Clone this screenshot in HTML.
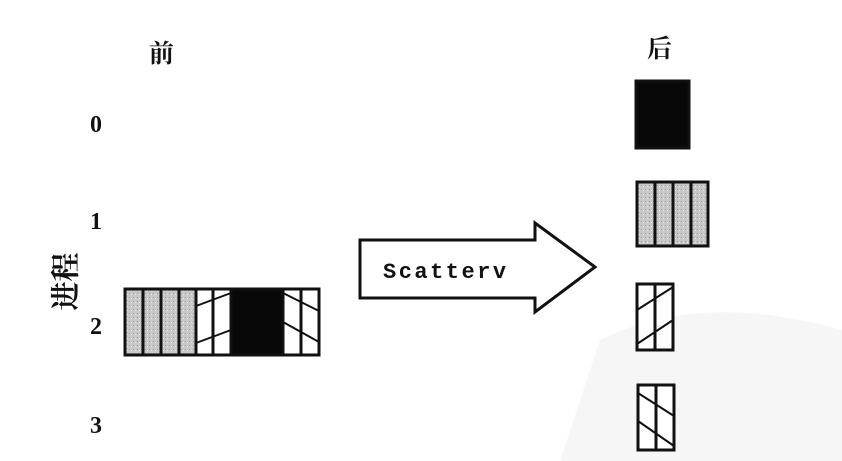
<!DOCTYPE html>
<html><head><meta charset="utf-8">
<style>
html,body{margin:0;padding:0;background:#fff;}
#wrap{position:relative;width:842px;height:461px;overflow:hidden;background:#fff;}
.t{position:absolute;font-family:"Liberation Serif","Noto Serif CJK SC",serif;font-weight:bold;color:#111;line-height:1;}
</style></head><body>
<div id="wrap">
<svg width="842" height="461" style="position:absolute;left:0;top:0">
<defs>
<pattern id="gray" width="4" height="4" patternUnits="userSpaceOnUse"><rect width="4" height="4" fill="#c8c8c8"/><rect x="1" y="1" width="1" height="1" fill="#999"/><rect x="3" y="2" width="1" height="1" fill="#e8e8e8"/></pattern>
</defs>
<path d="M560 461 L600 340 Q700 290 842 330 L842 461 Z" fill="#f6f6f6"/>
<g stroke="#111" stroke-width="3">
<rect x="125" y="289" width="18" height="66" fill="url(#gray)"/>
<rect x="143" y="289" width="18" height="66" fill="url(#gray)"/>
<rect x="161" y="289" width="18" height="66" fill="url(#gray)"/>
<rect x="179" y="289" width="17" height="66" fill="url(#gray)"/>
<rect x="196" y="289" width="17" height="66" fill="#fff"/>
<rect x="213" y="289" width="18" height="66" fill="#fff"/>
<line x1="196" y1="306" x2="231" y2="293" stroke-width="2"/>
<line x1="196" y1="343" x2="231" y2="330" stroke-width="2"/>
<rect x="231" y="289" width="52" height="66" fill="#080808"/>
<rect x="283" y="289" width="18" height="66" fill="#fff"/>
<rect x="301" y="289" width="18" height="66" fill="#fff"/>
<line x1="283" y1="293" x2="319" y2="311" stroke-width="2"/>
<line x1="283" y1="322" x2="319" y2="342" stroke-width="2"/>
</g>
<g stroke="#111" stroke-width="3">
<rect x="636" y="81" width="53" height="67" fill="#080808"/>
<g>
<rect x="637" y="182" width="18" height="64" fill="url(#gray)"/>
<rect x="655" y="182" width="18" height="64" fill="url(#gray)"/>
<rect x="673" y="182" width="18" height="64" fill="url(#gray)"/>
<rect x="691" y="182" width="17" height="64" fill="url(#gray)"/>
</g>
<g>
<rect x="637" y="284" width="18" height="66" fill="#fff"/>
<rect x="655" y="284" width="18" height="66" fill="#fff"/>
<line x1="637" y1="310" x2="673" y2="287" stroke-width="2"/>
<line x1="637" y1="344" x2="673" y2="320" stroke-width="2"/>
</g>
<g>
<rect x="638" y="385" width="18" height="65" fill="#fff"/>
<rect x="656" y="385" width="18" height="65" fill="#fff"/>
<line x1="638" y1="393" x2="674" y2="416" stroke-width="2"/>
<line x1="638" y1="421" x2="674" y2="446" stroke-width="2"/>
</g>
</g>
<polygon points="360,240 535,240 535,223 595,267 535,312 535,298 360,298" fill="#fff" stroke="#111" stroke-width="3"/>
<text x="383" y="278" font-family="Liberation Mono, monospace" font-weight="bold" font-size="22" letter-spacing="2.5" fill="#111">Scatterv</text>
</svg>
<div class="t" style="left:149px;top:42px;font-size:25px;">前</div>
<div class="t" style="left:647px;top:37px;font-size:25px;">后</div>
<div class="t" style="left:90px;top:113px;font-size:24px;">0</div>
<div class="t" style="left:90px;top:210px;font-size:24px;">1</div>
<div class="t" style="left:90px;top:315px;font-size:24px;">2</div>
<div class="t" style="left:90px;top:414px;font-size:24px;">3</div>
<div class="t" style="left:36px;top:267px;font-size:29px;width:62px;text-align:center;transform:rotate(-90deg);">进程</div>
</div>
</body></html>
